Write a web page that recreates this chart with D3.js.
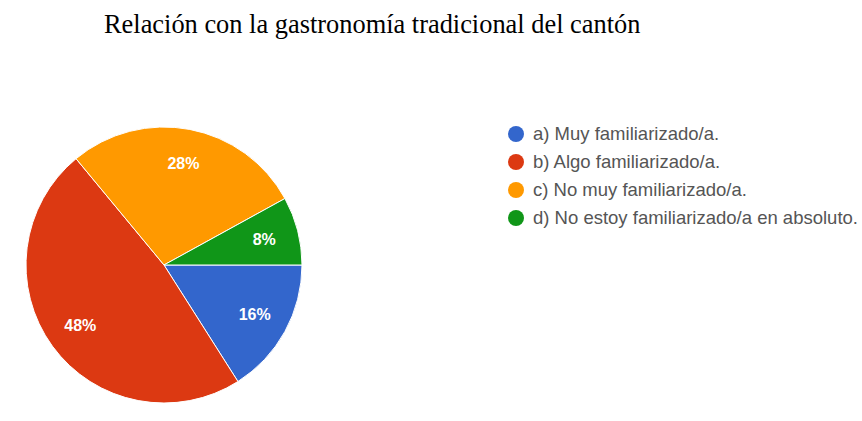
<!DOCTYPE html>
<html><head><meta charset="utf-8">
<script src="https://cdn.jsdelivr.net/npm/d3@7"></script>
<style>body{margin:0;background:#fff}</style>
</head><body>
<svg id="c" width="862" height="421"></svg>
<script>
const categories = ["a) Muy familiarizado/a.", "b) Algo familiarizado/a.", "c) No muy familiarizado/a.", "d) No estoy familiarizado/a en absoluto."];
const values = [16, 48, 28, 8];
const colors = ["#3366cc", "#dc3912", "#ff9900", "#109618"];
const title = "Relación con la gastronomía tradicional del cantón";

const svg = d3.select("#c");
svg.append("text").attr("x", 104).attr("y", 33)
  .attr("font-family", "Liberation Serif, Times New Roman, serif")
  .attr("font-size", 26.4).attr("fill", "#000").text(title);

const cx = 164, cy = 265, R = 138;
const pie = d3.pie().sort(null).value(d => d)
  .startAngle(Math.PI / 2).endAngle(Math.PI / 2 + 2 * Math.PI);
const arcs = pie(values);
const arc = d3.arc().innerRadius(0).outerRadius(R);
const labelArc = d3.arc().innerRadius(R * 0.75).outerRadius(R * 0.75);
const color = d3.scaleOrdinal().domain(categories).range(colors);

const g = svg.append("g").attr("transform", `translate(${cx},${cy})`);
g.selectAll("path").data(arcs).join("path")
  .attr("d", arc).attr("fill", (d, i) => color(categories[i]))
  .attr("stroke", "#fff").attr("stroke-width", 1);
g.selectAll("text").data(arcs).join("text")
  .attr("transform", d => `translate(${labelArc.centroid(d)})`)
  .attr("text-anchor", "middle").attr("dy", "0.35em")
  .attr("font-family", "Liberation Sans, Arial, sans-serif")
  .attr("font-size", 16).attr("font-weight", "bold").attr("fill", "#fff")
  .text(d => d.value + "%");

const leg = svg.append("g");
const y = d3.scalePoint().domain(categories).range([134, 218]);
const rows = leg.selectAll("g").data(categories).join("g")
  .attr("transform", d => `translate(516,${y(d)})`);
rows.append("circle").attr("r", 8).attr("fill", d => color(d));
rows.append("text").attr("x", 17).attr("dy", "0.35em")
  .attr("font-family", "Liberation Sans, Arial, sans-serif")
  .attr("font-size", 18.5).attr("fill", "#555").text(d => d);
</script>
</body></html>
